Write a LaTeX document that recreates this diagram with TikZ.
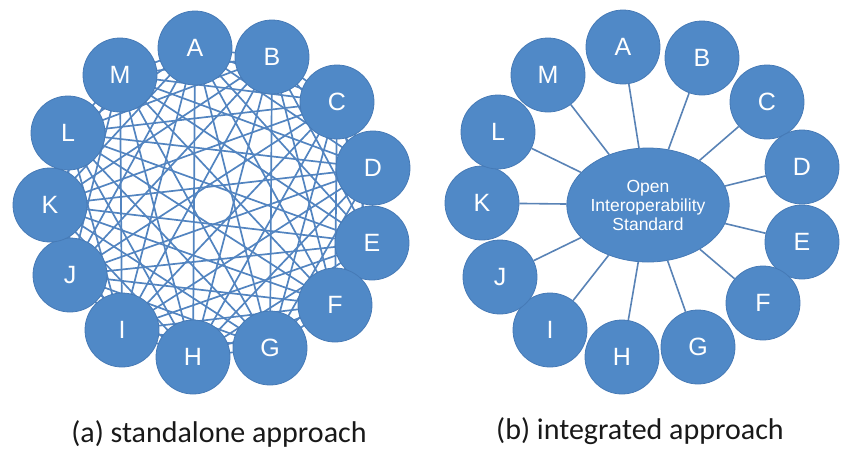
\documentclass[tikz,border=0pt]{standalone}
\usepackage{fontspec}
\setmainfont{Carlito}
\newfontfamily\arialfont{Liberation Sans}
\definecolor{nodeblue}{RGB}{80,137,199}
\definecolor{rimblue}{RGB}{70,122,182}
\definecolor{lineblue}{RGB}{82,132,192}
\usetikzlibrary{shapes.geometric,backgrounds}
\tikzset{
  member/.style={circle, fill=nodeblue, draw=rimblue, line width=.8pt,
    minimum size=74pt, inner sep=0pt, text=white,
    font=\arialfont\fontsize{25}{28}\selectfont},
  hub/.style={ellipse, fill=nodeblue, draw=rimblue, line width=.8pt,
    minimum width=136pt, minimum height=114pt, inner sep=0pt, text=white,
    align=center, font=\arialfont\fontsize{17.5}{19}\selectfont},
  link/.style={lineblue, line width=1.7pt},
  spoke/.style={lineblue!85!gray, line width=1.6pt},
  caption/.style={font=\fontsize{30}{34}\selectfont, text=black!90}
}
\begin{document}
\begin{tikzpicture}[x=1pt,y=-1pt]
  \useasboundingbox (0,0) rectangle (843,451);
  % (a) every member linked to every other
  \foreach \n/\x/\y in {A/195/48, B/272/57, C/337/102, D/373/168,
      E/372/243, F/335/305, G/270/348, H/193/357, I/122/330,
      J/70/275, K/50/205, L/68/133, M/120/75}
    \node (s\n) at (\x,\y) [member] {\n};
  \begin{scope}[on background layer]
    \foreach \p [count=\i] in {A,B,C,D,E,F,G,H,I,J,K,L,M}
      \foreach \q [count=\j] in {A,B,C,D,E,F,G,H,I,J,K,L,M}
        {\ifnum\j>\i \draw[link] (s\p.center) -- (s\q.center);\fi}
  \end{scope}
  % (b) every member linked to the standard
  \node (hub) at (648,205) [hub] {Open\\Interoperability\\Standard};
  \foreach \n/\x/\y in {A/623/47, B/702/58, C/767/102, D/802/167,
      E/802/242, F/763/303, G/698/347, H/622/357, I/550/330,
      J/500/277, K/482/203, L/498/132, M/548/75} {
    \node (i\n) at (\x,\y) [member] {\n};
    \draw[spoke] (hub) -- (i\n);
  }
  % captions
  \node (capa) at (219,434) [caption] {(a) standalone approach};
  \node (capb) at (640,431) [caption] {(b) integrated approach};
\end{tikzpicture}
\end{document}
